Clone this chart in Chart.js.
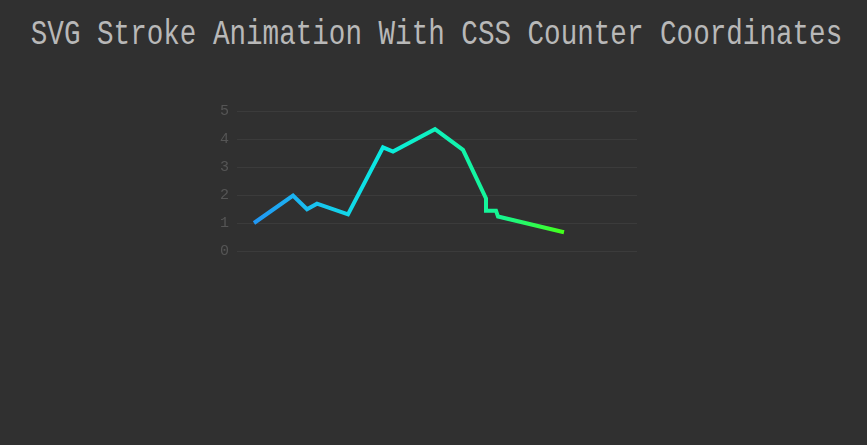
<!DOCTYPE html>
<html lang="en">
<head>
    <meta charset="UTF-8">
    <title>SVG Stroke Animation With CSS Counter Coordinates</title>
    <style>
        html, body {
            margin: 0;
            background: #303030;
            overflow: hidden;
        }
        h1 {
            position: absolute;
            top: 19px;
            left: 0;
            width: 873px;
            margin: 0;
            text-align: center;
            font-family: "Liberation Mono", monospace;
            font-weight: normal;
            font-size: 27.6px;
            color: #b8b8b8;
            transform: scaleY(1.25);
            transform-origin: 50% 50%;
        }
        .chart-box {
            position: absolute;
            left: 0;
            top: 0;
            width: 867px;
            height: 445px;
        }
    </style>
</head>
<body>
    <h1>SVG Stroke Animation With CSS Counter Coordinates</h1>
    <div class="chart-box">
        <canvas id="grafico"></canvas>
    </div>

    <script src="https://cdn.jsdelivr.net/npm/chart.js"></script>
    <script>
        // coordenadas (x em px do traço, y no eixo 0-5)
        const xValores = [17, 56, 70, 80, 111, 146, 156, 198, 226, 249, 249, 259, 261, 327];
        const yValores = [1.0, 1.98, 1.49, 1.69, 1.31, 3.7, 3.55, 4.35, 3.61, 1.88, 1.44, 1.44, 1.23, 0.67];
        const yTicks = [0, 1, 2, 3, 4, 5];

        const pontos = xValores.map((x, i) => ({ x: x, y: yValores[i] }));

        // gradiente horizontal do azul para o verde
        function gradiente(context) {
            const chart = context.chart;
            const area = chart.chartArea;
            if (!area) return '#2196f3';
            const xs = chart.scales.x;
            const x0 = xs.getPixelForValue(Math.min(...xValores));
            const x1 = xs.getPixelForValue(Math.max(...xValores));
            const g = chart.ctx.createLinearGradient(x0, 0, x1, 0);
            g.addColorStop(0, '#2196f3');
            g.addColorStop(0.2, '#18c4f0');
            g.addColorStop(0.42, '#0aece0');
            g.addColorStop(0.6, '#10f2b8');
            g.addColorStop(0.8, '#16f690');
            g.addColorStop(1, '#44ff18');
            return g;
        }

        new Chart(document.getElementById('grafico'), {
            type: 'line',
            data: {
                datasets: [{
                    data: pontos,
                    borderColor: gradiente,
                    borderWidth: 4,
                    pointRadius: 0,
                    tension: 0,
                    fill: false,
                    borderJoinStyle: 'miter',
                    borderCapStyle: 'butt'
                }]
            },
            options: {
                responsive: true,
                maintainAspectRatio: false,
                animation: false,
                layout: {
                    padding: { left: 197, right: 230, top: 111, bottom: 194 }
                },
                plugins: {
                    legend: { display: false },
                    tooltip: { enabled: false }
                },
                scales: {
                    x: {
                        type: 'linear',
                        display: false,
                        min: 0,
                        max: 400
                    },
                    y: {
                        min: 0,
                        max: 5,
                        afterFit: function (scale) { scale.width = 40; },
                        afterBuildTicks: function (scale) {
                            scale.ticks = yTicks.map(v => ({ value: v }));
                        },
                        border: { display: false },
                        grid: {
                            color: '#3b3b3b',
                            lineWidth: 1,
                            drawTicks: false
                        },
                        ticks: {
                            color: '#555555',
                            padding: 8,
                            font: { family: 'Liberation Mono', size: 15 }
                        }
                    }
                }
            }
        });
    </script>
</body>
</html>
